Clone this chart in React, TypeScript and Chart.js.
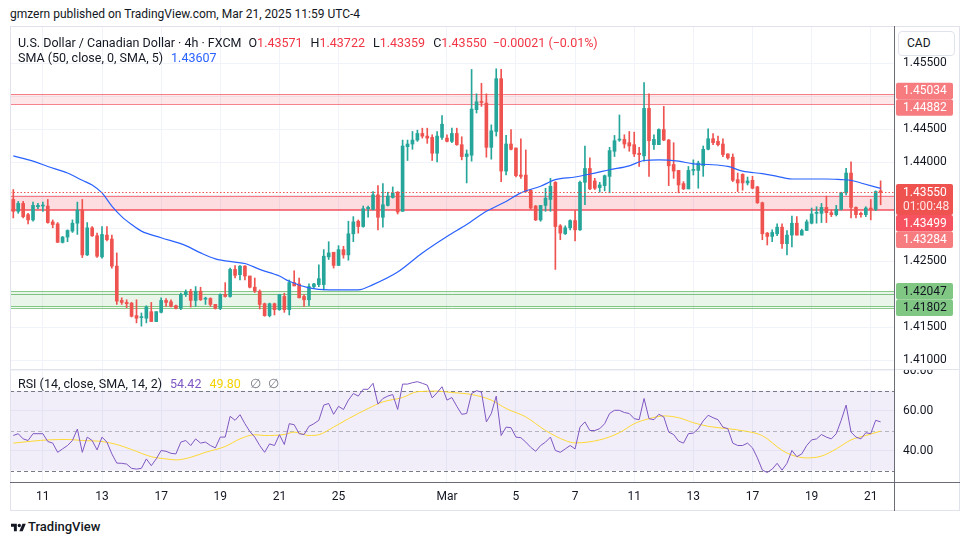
import React, { useEffect, useRef } from "react";
import { Chart, registerables } from "chart.js";

Chart.register(...registerables);

const FONT = "Roboto, 'Noto Sans', sans-serif";
const UP = "#26a69a";
const DOWN = "#ef5350";
const GRID = "#f0f3fa";
const TEXT = "#131722";

// ---- candles (4h bars, Feb 10 -> Mar 21) ----
const opens = [
  1.4344, 1.4326, 1.4338, 1.4321, 1.4313, 1.4333, 1.4334, 1.4334, 1.4310, 1.4307,
  1.4279, 1.4287, 1.4296, 1.4308, 1.4328, 1.4260, 1.4301, 1.4289, 1.4257, 1.4290,
  1.4284, 1.4243, 1.4191, 1.4188, 1.4187, 1.4168, 1.4165, 1.4164, 1.4174, 1.4159,
  1.4173, 1.4191, 1.4189, 1.4183, 1.4179, 1.4200, 1.4205, 1.4191, 1.4205, 1.4193,
  1.4194, 1.4185, 1.4179, 1.4200, 1.4197, 1.4238, 1.4230, 1.4243, 1.4228, 1.4211,
  1.4205, 1.4186, 1.4168, 1.4186, 1.4177, 1.4197, 1.4177, 1.4218, 1.4216, 1.4197,
  1.4192, 1.4212, 1.4215, 1.4215, 1.4257, 1.4264, 1.4244, 1.4268, 1.4260, 1.4292,
  1.4311, 1.4303, 1.4330, 1.4329, 1.4351, 1.4317, 1.4335, 1.4347, 1.4355, 1.4326,
  1.4424, 1.4428, 1.4434, 1.4444, 1.4440, 1.4438, 1.4414, 1.4438, 1.4437, 1.4432,
  1.4444, 1.4427, 1.4409, 1.4411, 1.4480, 1.4492, 1.4490, 1.4423, 1.4447, 1.4527,
  1.4387, 1.4428, 1.4422, 1.4381, 1.4381, 1.4358, 1.4334, 1.4313, 1.4335, 1.4344,
  1.4370, 1.4304, 1.4292, 1.4301, 1.4312, 1.4298, 1.4370, 1.4391, 1.4372, 1.4362,
  1.4365, 1.4379, 1.4417, 1.4434, 1.4435, 1.4430, 1.4427, 1.4414, 1.4410, 1.4482,
  1.4427, 1.4427, 1.4450, 1.4434, 1.4397, 1.4388, 1.4368, 1.4360, 1.4388, 1.4388,
  1.4395, 1.4420, 1.4436, 1.4432, 1.4428, 1.4413, 1.4408, 1.4374, 1.4382, 1.4369,
  1.4373, 1.4363, 1.4339, 1.4293, 1.4288, 1.4292, 1.4302, 1.4277, 1.4290, 1.4308,
  1.4290, 1.4297, 1.4308, 1.4323, 1.4323, 1.4332, 1.4324, 1.4321, 1.4329, 1.4354,
  1.4384, 1.4332, 1.4323, 1.4321, 1.4331, 1.4329, 1.43571,
];
const highs = [
  1.4359, 1.4341, 1.4341, 1.4323, 1.4340, 1.4338, 1.4340, 1.4344, 1.4313, 1.4309,
  1.4288, 1.4298, 1.4313, 1.4340, 1.4344, 1.4309, 1.4303, 1.4293, 1.4303, 1.4303,
  1.4290, 1.4263, 1.4195, 1.4192, 1.4188, 1.4192, 1.4172, 1.4183, 1.4188, 1.4174,
  1.4195, 1.4194, 1.4192, 1.4184, 1.4202, 1.4207, 1.4208, 1.4212, 1.4211, 1.4196,
  1.4195, 1.4185, 1.4201, 1.4218, 1.4240, 1.4244, 1.4244, 1.4244, 1.4228, 1.4225,
  1.4207, 1.4187, 1.4187, 1.4187, 1.4200, 1.4202, 1.4222, 1.4236, 1.4225, 1.4200,
  1.4216, 1.4217, 1.4245, 1.4268, 1.4280, 1.4264, 1.4274, 1.4273, 1.4311, 1.4318,
  1.4313, 1.4334, 1.4334, 1.4356, 1.4365, 1.4368, 1.4355, 1.4363, 1.4356, 1.4434,
  1.4434, 1.4447, 1.4449, 1.4452, 1.4452, 1.4442, 1.4447, 1.4471, 1.4442, 1.4452,
  1.4452, 1.4439, 1.4419, 1.4541, 1.4504, 1.4520, 1.4504, 1.4457, 1.4542, 1.4541,
  1.4441, 1.4450, 1.4422, 1.4436, 1.4419, 1.4359, 1.4335, 1.4335, 1.4361, 1.4376,
  1.4371, 1.4306, 1.4304, 1.4313, 1.4327, 1.4372, 1.4425, 1.4407, 1.4376, 1.4370,
  1.4381, 1.4423, 1.4441, 1.4472, 1.4442, 1.4447, 1.4446, 1.4423, 1.4521, 1.4504,
  1.4442, 1.4451, 1.4485, 1.4435, 1.4430, 1.4388, 1.4371, 1.4394, 1.4404, 1.4402,
  1.4425, 1.4451, 1.4444, 1.4440, 1.4436, 1.4413, 1.4413, 1.4384, 1.4383, 1.4378,
  1.4379, 1.4364, 1.4340, 1.4294, 1.4298, 1.4307, 1.4307, 1.4297, 1.4319, 1.4318,
  1.4299, 1.4313, 1.4331, 1.4333, 1.4338, 1.4349, 1.4328, 1.4335, 1.4355, 1.4391,
  1.4401, 1.4333, 1.4325, 1.4333, 1.4344, 1.4357, 1.43722,
];
const lows = [
  1.4316, 1.4323, 1.4316, 1.4307, 1.4311, 1.4330, 1.4326, 1.4308, 1.4301, 1.4279,
  1.4278, 1.4280, 1.4294, 1.4291, 1.4256, 1.4259, 1.4288, 1.4256, 1.4255, 1.4281,
  1.4240, 1.4185, 1.4185, 1.4180, 1.4166, 1.4157, 1.4152, 1.4157, 1.4159, 1.4159,
  1.4172, 1.4182, 1.4181, 1.4178, 1.4177, 1.4197, 1.4181, 1.4182, 1.4191, 1.4185,
  1.4182, 1.4178, 1.4177, 1.4196, 1.4196, 1.4225, 1.4222, 1.4222, 1.4210, 1.4203,
  1.4178, 1.4167, 1.4166, 1.4169, 1.4176, 1.4173, 1.4169, 1.4213, 1.4195, 1.4182,
  1.4183, 1.4210, 1.4212, 1.4207, 1.4253, 1.4240, 1.4244, 1.4255, 1.4252, 1.4280,
  1.4293, 1.4302, 1.4317, 1.4328, 1.4298, 1.4302, 1.4334, 1.4346, 1.4322, 1.4326,
  1.4403, 1.4420, 1.4432, 1.4437, 1.4429, 1.4403, 1.4401, 1.4435, 1.4431, 1.4430,
  1.4426, 1.4404, 1.4369, 1.4402, 1.4475, 1.4485, 1.4408, 1.4405, 1.4440, 1.4371,
  1.4381, 1.4419, 1.4378, 1.4376, 1.4355, 1.4329, 1.4312, 1.4311, 1.4326, 1.4326,
  1.4238, 1.4283, 1.4291, 1.4298, 1.4281, 1.4297, 1.4336, 1.4359, 1.4359, 1.4355,
  1.4357, 1.4354, 1.4409, 1.4432, 1.4422, 1.4417, 1.4409, 1.4394, 1.4402, 1.4379,
  1.4420, 1.4427, 1.4433, 1.4365, 1.4376, 1.4354, 1.4359, 1.4360, 1.4381, 1.4361,
  1.4379, 1.4419, 1.4427, 1.4425, 1.4409, 1.4405, 1.4371, 1.4356, 1.4358, 1.4366,
  1.4360, 1.4338, 1.4283, 1.4275, 1.4280, 1.4289, 1.4270, 1.4260, 1.4272, 1.4290,
  1.4290, 1.4297, 1.4307, 1.4308, 1.4309, 1.4309, 1.4318, 1.4319, 1.4328, 1.4351,
  1.4316, 1.4316, 1.4317, 1.4318, 1.4313, 1.4327, 1.43359,
];
const closes = [
  1.4326, 1.4338, 1.4318, 1.4313, 1.4335, 1.4335, 1.4335, 1.4309, 1.4306, 1.4279,
  1.4287, 1.4297, 1.4308, 1.4328, 1.4260, 1.4301, 1.4289, 1.4258, 1.4291, 1.4283,
  1.4243, 1.4190, 1.4188, 1.4186, 1.4167, 1.4164, 1.4166, 1.4181, 1.4159, 1.4174,
  1.4191, 1.4188, 1.4182, 1.4179, 1.4200, 1.4204, 1.4191, 1.4205, 1.4192, 1.4194,
  1.4185, 1.4179, 1.4200, 1.4197, 1.4238, 1.4229, 1.4243, 1.4228, 1.4211, 1.4205,
  1.4185, 1.4168, 1.4186, 1.4177, 1.4200, 1.4177, 1.4218, 1.4213, 1.4195, 1.4192,
  1.4212, 1.4216, 1.4224, 1.4258, 1.4263, 1.4244, 1.4268, 1.4260, 1.4292, 1.4310,
  1.4303, 1.4330, 1.4332, 1.4351, 1.4317, 1.4336, 1.4349, 1.4354, 1.4325, 1.4425,
  1.4428, 1.4434, 1.4444, 1.4440, 1.4437, 1.4414, 1.4440, 1.4458, 1.4432, 1.4444,
  1.4427, 1.4409, 1.4413, 1.4481, 1.4492, 1.4491, 1.4423, 1.4448, 1.4527, 1.4387,
  1.4428, 1.4420, 1.4380, 1.4379, 1.4356, 1.4331, 1.4313, 1.4335, 1.4346, 1.4364,
  1.4303, 1.4293, 1.4301, 1.4312, 1.4298, 1.4370, 1.4391, 1.4360, 1.4361, 1.4366,
  1.4380, 1.4418, 1.4433, 1.4435, 1.4428, 1.4425, 1.4413, 1.4412, 1.4482, 1.4433,
  1.4435, 1.4450, 1.4434, 1.4395, 1.4387, 1.4366, 1.4360, 1.4388, 1.4389, 1.4399,
  1.4420, 1.4436, 1.4430, 1.4427, 1.4412, 1.4407, 1.4373, 1.4369, 1.4369, 1.4372,
  1.4361, 1.4339, 1.4292, 1.4288, 1.4294, 1.4302, 1.4277, 1.4290, 1.4308, 1.4290,
  1.4297, 1.4310, 1.4322, 1.4324, 1.4332, 1.4324, 1.4321, 1.4329, 1.4354, 1.4384,
  1.4332, 1.4321, 1.4321, 1.4331, 1.4329, 1.4356, 1.43550,
];

// ---- SMA(50) read at selected bars ----
const smaBars = [0, 4, 7, 11, 14, 16, 18, 20, 22, 24, 26, 30, 35, 38, 41, 45, 47, 50, 54, 56,
  60, 64, 70, 73, 78, 83, 88, 92, 96, 100, 103, 107, 110, 114, 118, 121, 125, 128, 131, 135,
  138, 141, 145, 148, 152, 155, 158, 162, 165, 168, 170, 172, 176];
const smaValues = [1.4410, 1.4402, 1.4394, 1.4384, 1.4373, 1.4366, 1.4354, 1.4334, 1.4318, 1.4306,
  1.4296, 1.4286, 1.4274, 1.4263, 1.4254, 1.4249, 1.4247, 1.4238, 1.4228, 1.4220,
  1.4210, 1.4207, 1.4207, 1.4215, 1.4234, 1.4263, 1.4288, 1.4306, 1.4326, 1.4341,
  1.4354, 1.4364, 1.4374, 1.4378, 1.4384, 1.4389, 1.4395, 1.4403, 1.4404, 1.4402,
  1.4398, 1.4397, 1.4394, 1.4387, 1.4383, 1.4379, 1.4375, 1.4375, 1.4375, 1.4374,
  1.4373, 1.4369, 1.43607];

// ---- RSI(14) per bar ----
const rsiValues = [
  47.6, 48.5, 45.9, 45.1, 48.5, 48.5, 48.5, 44.6, 43.8, 39.2,
  40.9, 42.6, 45.1, 50.8, 39.2, 46.8, 45.1, 40.4, 46.8, 44.3,
  38.4, 33.8, 33.7, 33.3, 31.2, 30.8, 31.2, 35.9, 32.5, 35.9,
  40.1, 39.7, 38.7, 38.4, 44.3, 45.1, 42.6, 45.9, 43.8, 44.3,
  42.6, 41.4, 46.8, 46.8, 57.2, 55.2, 58.0, 53.5, 49.6, 46.8,
  42.6, 39.2, 43.4, 42.6, 48.0, 43.1, 53.5, 53.0, 48.5, 48.1,
  52.2, 53.5, 55.2, 62.8, 63.6, 58.2, 62.2, 60.6, 65.3, 68.6,
  67.3, 70.7, 70.7, 73.7, 63.3, 66.1, 67.3, 68.1, 60.6, 73.3,
  73.3, 74.0, 74.5, 73.7, 72.8, 66.4, 69.0, 72.0, 65.3, 66.6,
  62.2, 58.2, 58.6, 68.6, 70.0, 69.3, 54.4, 58.6, 67.3, 47.6,
  51.8, 51.5, 46.8, 46.5, 44.3, 41.7, 39.7, 42.6, 44.3, 46.8,
  40.1, 39.2, 40.9, 42.6, 40.9, 51.8, 54.4, 50.1, 50.1, 51.0,
  53.5, 58.6, 60.2, 60.2, 59.1, 58.6, 56.0, 55.5, 66.1, 56.0,
  55.5, 58.2, 56.9, 49.3, 48.1, 44.8, 43.8, 48.5, 48.8, 51.0,
  54.9, 57.7, 56.5, 55.5, 51.8, 51.0, 43.8, 42.6, 42.6, 43.8,
  41.4, 36.4, 30.3, 29.1, 30.8, 33.7, 30.3, 33.7, 40.1, 37.0,
  38.4, 42.6, 45.4, 45.9, 48.1, 46.8, 45.9, 48.5, 55.2, 62.8,
  49.3, 46.8, 45.9, 49.0, 48.5, 55.2, 54.42,
];

// ---- RSI-based SMA(14) read at selected bars ----
const rsiMaBars = [0, 4, 7, 11, 14, 18, 21, 24, 28, 31, 33, 36, 39, 43, 46, 49, 51, 55, 57, 60,
  62, 65, 68, 72, 75, 79, 82, 86, 89, 93, 97, 100, 104, 108, 112, 114, 119, 123, 126, 129,
  132, 135, 138, 141, 145, 149, 152, 156, 158, 161, 164, 167, 170, 173, 176];
const rsiMaValues = [43.8, 44.8, 45.4, 45.6, 45.1, 44.6, 43.1, 40.6, 37.0, 35.9, 35.4, 36.7, 39.2, 42.1, 45.9, 48.0, 47.6, 48.1, 49.3, 47.6,
  48.0, 51.8, 56.0, 61.1, 64.4, 66.6, 69.5, 69.8, 69.1, 68.1, 65.3, 61.1, 56.9, 50.1, 45.1, 43.9, 45.4, 49.0, 53.5, 56.0,
  57.4, 56.5, 54.0, 52.2, 51.0, 49.6, 47.5, 40.2, 37.8, 36.4, 37.3, 40.9, 45.4, 47.6, 49.80];

// ---- axes ----
const priceTicks = [1.41, 1.415, 1.42, 1.425, 1.43, 1.435, 1.44, 1.445, 1.45, 1.455];
const rsiTicks = [40, 60, 80];
const timeTickBars = [6, 18, 30, 42, 54, 66, 88, 102, 114, 126, 138, 150, 162, 174];
const timeTickLabels = ["11", "13", "17", "19", "21", "25", "Mar", "5", "7", "11", "13", "17", "19", "21"];

// ---- drawn zones / levels ----
const resistanceHigh = [1.45034, 1.44882];
const resistanceMid = [1.43499, 1.43284];
const supportOuter = [1.42047, 1.41802];
const supportInner = [1.42012, 1.41830];
const rsiBand = [70, 30];
const rsiMid = 50;
const countdown = "01:00:48";
const changeText = "\u22120.00021 (\u22120.01%)";
const smaLast = 1.43607;

const X_MIN = -0.67;
const X_MAX = 178.92;
const PRICE_MIN = 1.40856;
const PRICE_MAX = 1.46053;
const RSI_MIN = 23.85;
const RSI_MAX = 80.35;

function hline(ctx: any, area: any, y: number, color: string, width: number, dash: number[] = []) {
  ctx.save();
  ctx.strokeStyle = color;
  ctx.lineWidth = width;
  ctx.setLineDash(dash);
  const yy = width % 2 === 1 ? Math.round(y) + 0.5 : Math.round(y);
  ctx.beginPath();
  ctx.moveTo(area.left, yy);
  ctx.lineTo(area.right, yy);
  ctx.stroke();
  ctx.restore();
}

const zonePlugin = {
  id: "zones",
  beforeDatasetsDraw(chart: any) {
    const { ctx, chartArea: a } = chart;
    const ys = chart.scales.y;
    const fill = (top: number, bot: number, color: string) => {
      const y1 = ys.getPixelForValue(top);
      const y2 = ys.getPixelForValue(bot);
      ctx.save();
      ctx.fillStyle = color;
      ctx.fillRect(a.left, y1, a.right - a.left, y2 - y1);
      ctx.restore();
    };
    fill(resistanceHigh[0], resistanceHigh[1], "rgba(242,54,69,0.12)");
    hline(ctx, a, ys.getPixelForValue(resistanceHigh[0]), "rgba(242,54,69,0.6)", 1);
    hline(ctx, a, ys.getPixelForValue(resistanceHigh[1]), "rgba(242,54,69,0.6)", 1);
    fill(resistanceMid[0], resistanceMid[1], "rgba(242,54,69,0.17)");
    hline(ctx, a, ys.getPixelForValue(resistanceMid[0]), "rgba(242,54,69,0.6)", 1);
    hline(ctx, a, ys.getPixelForValue(resistanceMid[1]), "rgba(242,54,69,0.65)", 2);
    fill(supportOuter[0], supportOuter[1], "rgba(76,175,80,0.13)");
    [supportOuter[0], supportInner[0], supportInner[1], supportOuter[1]].forEach((v) =>
      hline(ctx, a, ys.getPixelForValue(v), "rgba(76,175,80,0.65)", 1)
    );
  },
  afterDatasetsDraw(chart: any) {
    const { ctx, chartArea: a } = chart;
    const ys = chart.scales.y;
    const last = closes[closes.length - 1];
    hline(ctx, a, ys.getPixelForValue(last), DOWN, 1, [1.5, 2]);
  },
};

const tagPlugin = {
  id: "tags",
  afterDraw(chart: any) {
    const { ctx, chartArea: a } = chart;
    const ys = chart.scales.y;
    const H = 16.6;
    const last = closes[closes.length - 1];
    const tags: any[] = [
      { value: last, lines: [last.toFixed(5), countdown], bg: DOWN, fg: ["#ffffff", "rgba(255,255,255,0.85)"], h: 31, fixed: true },
      { value: resistanceHigh[0], lines: [resistanceHigh[0].toFixed(5)], bg: "#f77c80", fg: ["#ffffff"], h: H },
      { value: resistanceHigh[1], lines: [resistanceHigh[1].toFixed(5)], bg: "#f77c80", fg: ["#ffffff"], h: H },
      { value: resistanceMid[0], lines: [resistanceMid[0].toFixed(5)], bg: "#f7525f", fg: ["#ffffff"], h: H },
      { value: resistanceMid[1], lines: [resistanceMid[1].toFixed(5)], bg: "#f77c80", fg: ["#ffffff"], h: H },
      { value: supportOuter[0], lines: [supportOuter[0].toFixed(5)], bg: "#81c784", fg: [TEXT], h: H },
      { value: supportOuter[1], lines: [supportOuter[1].toFixed(5)], bg: "#81c784", fg: [TEXT], h: H },
    ];
    tags.forEach((t) => {
      t.c = ys.getPixelForValue(t.value);
      t.top = t.c - H / 2;
    });
    tags.sort((p, q) => p.c - q.c);
    for (let it = 0; it < 300; it++) {
      for (let k = 0; k < tags.length - 1; k++) {
        const p = tags[k];
        const q = tags[k + 1];
        const ov = p.top + p.h - q.top;
        if (ov > 0.01) {
          if (p.fixed) q.top += ov;
          else if (q.fixed) p.top -= ov;
          else {
            p.top -= ov / 2;
            q.top += ov / 2;
          }
        }
      }
    }
    ctx.save();
    ctx.font = `12px ${FONT}`;
    ctx.textBaseline = "middle";
    ctx.textAlign = "left";
    tags.forEach((t) => {
      ctx.fillStyle = t.bg;
      ctx.beginPath();
      ctx.roundRect(a.right + 1, t.top, 57, t.h, 2);
      ctx.fill();
      t.lines.forEach((s: string, j: number) => {
        ctx.fillStyle = t.fg[j] || t.fg[0];
        ctx.fillText(s, a.right + 8, t.top + H / 2 + j * 14.4 + 0.5);
      });
    });
    ctx.restore();
  },
};

const rsiBandPlugin = {
  id: "rsiBand",
  beforeDatasetsDraw(chart: any) {
    const { ctx, chartArea: a } = chart;
    const ys = chart.scales.y;
    const y1 = ys.getPixelForValue(rsiBand[0]);
    const y2 = ys.getPixelForValue(rsiBand[1]);
    ctx.save();
    ctx.fillStyle = "rgba(126,87,194,0.1)";
    ctx.fillRect(a.left, y1, a.right - a.left, y2 - y1);
    ctx.restore();
    hline(ctx, a, y1, "#787b86", 1, [4, 3]);
    hline(ctx, a, y2, "#787b86", 1, [4, 3]);
    hline(ctx, a, ys.getPixelForValue(rsiMid), "rgba(120,123,134,0.5)", 1, [4, 3]);
  },
};

export default function App() {
  const priceRef = useRef<HTMLCanvasElement>(null);
  const rsiRef = useRef<HTMLCanvasElement>(null);

  useEffect(() => {
    const bars = closes.map((_, i) => i);
    const colors = bars.map((i) => (closes[i] >= opens[i] ? UP : DOWN));
    const xBase: any = {
      type: "linear",
      min: X_MIN,
      max: X_MAX,
      offset: false,
      grid: { color: GRID, drawTicks: false, offset: false },
      border: { display: false },
      afterBuildTicks: (s: any) => {
        s.ticks = timeTickBars.map((v) => ({ value: v }));
      },
    };

    const priceChart = new Chart(priceRef.current as HTMLCanvasElement, {
      type: "bar",
      data: {
        datasets: [
          {
            type: "line",
            data: smaBars.map((b, k) => ({ x: b, y: smaValues[k] })),
            borderColor: "#2962ff",
            borderWidth: 1.2,
            pointRadius: 0,
            cubicInterpolationMode: "monotone",
            order: 0,
          } as any,
          {
            data: bars.map((i) => ({ x: i, y: [opens[i], closes[i]] })),
            backgroundColor: colors,
            barThickness: 3,
            minBarLength: 1,
            grouped: false,
            order: 1,
          } as any,
          {
            data: bars.map((i) => ({ x: i, y: [lows[i], highs[i]] })),
            backgroundColor: colors,
            barThickness: 1,
            grouped: false,
            order: 2,
          } as any,
        ],
      },
      options: {
        responsive: false,
        animation: false,
        events: [],
        layout: { padding: 0 },
        plugins: { legend: { display: false }, tooltip: { enabled: false } },
        scales: {
          x: {
            ...xBase,
            ticks: { display: false },
            afterFit: (s: any) => {
              s.height = 0;
              s.paddingLeft = 0;
              s.paddingRight = 0;
            },
          },
          y: {
            type: "linear",
            position: "right",
            min: PRICE_MIN,
            max: PRICE_MAX,
            grid: { color: GRID, drawTicks: false },
            border: { display: false },
            ticks: {
              color: TEXT,
              font: { family: FONT, size: 12 },
              padding: 8,
              autoSkip: false,
              callback: (v: any) => Number(v).toFixed(5),
            },
            afterBuildTicks: (s: any) => {
              s.ticks = priceTicks.map((v) => ({ value: v }));
            },
            afterFit: (s: any) => {
              s.width = 65;
              s.paddingTop = 0;
              s.paddingBottom = 0;
            },
          },
        },
      } as any,
      plugins: [zonePlugin, tagPlugin],
    });

    const rsiChart = new Chart(rsiRef.current as HTMLCanvasElement, {
      type: "line",
      data: {
        datasets: [
          {
            data: bars.map((i) => ({ x: i, y: rsiValues[i] })),
            borderColor: "#7e57c2",
            borderWidth: 1,
            pointRadius: 0,
            tension: 0,
          },
          {
            data: rsiMaBars.map((b, k) => ({ x: b, y: rsiMaValues[k] })),
            borderColor: "#fdd835",
            borderWidth: 1,
            pointRadius: 0,
            cubicInterpolationMode: "monotone",
          },
        ],
      },
      options: {
        responsive: false,
        animation: false,
        events: [],
        layout: { padding: 0 },
        plugins: { legend: { display: false }, tooltip: { enabled: false } },
        scales: {
          x: {
            ...xBase,
            ticks: {
              color: TEXT,
              font: { family: FONT, size: 12 },
              padding: 7,
              maxRotation: 0,
              autoSkip: false,
              callback: (_v: any, i: number) => timeTickLabels[i],
            },
            afterFit: (s: any) => {
              s.height = 28;
              s.paddingLeft = 0;
              s.paddingRight = 0;
            },
          },
          y: {
            type: "linear",
            position: "right",
            min: RSI_MIN,
            max: RSI_MAX,
            grid: { color: GRID, drawTicks: false },
            border: { display: false },
            ticks: {
              color: TEXT,
              font: { family: FONT, size: 12 },
              padding: 8,
              autoSkip: false,
              callback: (v: any) => Number(v).toFixed(2),
            },
            afterBuildTicks: (s: any) => {
              s.ticks = rsiTicks.map((v) => ({ value: v }));
            },
            afterFit: (s: any) => {
              s.width = 65;
              s.paddingTop = 0;
              s.paddingBottom = 0;
            },
          },
        },
      } as any,
      plugins: [rsiBandPlugin],
    });

    return () => {
      priceChart.destroy();
      rsiChart.destroy();
    };
  }, []);

  const n = closes.length - 1;
  const red = "#f23645";
  const legend: any = {
    position: "absolute",
    left: 18,
    whiteSpace: "nowrap",
    fontSize: 12.5,
    color: "#131722",
    fontFamily: FONT,
    lineHeight: "14px",
  };
  const line = (style: any) => ({ position: "absolute", ...style });

  return (
    <div style={{ position: "fixed", left: 0, top: 0, width: 970, height: 545, background: "#fff", overflow: "hidden", fontFamily: FONT }}>
      <div style={{ position: "absolute", left: 10, top: 6, fontSize: 12, color: TEXT, whiteSpace: "nowrap", lineHeight: "16px" }}>
        gmzern published on TradingView.com, Mar 21, 2025 11:59 UTC-4
      </div>
      <canvas ref={priceRef} width={950} height={343} style={{ position: "absolute", left: 10, top: 27 }} />
      <canvas ref={rsiRef} width={950} height={141} style={{ position: "absolute", left: 10, top: 370 }} />

      {/* frame and pane separators */}
      <div style={line({ left: 10, top: 26, width: 950, height: 1, background: "#e0e3eb" })} />
      <div style={line({ left: 10, top: 26, width: 1, height: 485, background: "#e0e3eb" })} />
      <div style={line({ left: 959, top: 26, width: 1, height: 485, background: "#e0e3eb" })} />
      <div style={line({ left: 10, top: 510, width: 950, height: 1, background: "#e0e3eb" })} />
      <div style={line({ left: 10, top: 369, width: 950, height: 1, background: "#e0e3eb" })} />
      <div style={line({ left: 10, top: 482, width: 950, height: 1, background: "#6a6d78" })} />
      <div style={line({ left: 894, top: 26, width: 1, height: 485, background: "#6a6d78" })} />

      {/* legend */}
      <div style={{ ...legend, top: 36 }}>
        <span>U.S. Dollar / Canadian Dollar · 4h · FXCM</span>
        <span style={{ marginLeft: 7 }}>O<span style={{ color: red }}>{opens[n].toFixed(5)}</span></span>
        <span style={{ marginLeft: 8 }}>H<span style={{ color: red }}>{highs[n].toFixed(5)}</span></span>
        <span style={{ marginLeft: 8 }}>L<span style={{ color: red }}>{lows[n].toFixed(5)}</span></span>
        <span style={{ marginLeft: 8 }}>C<span style={{ color: red }}>{closes[n].toFixed(5)}</span></span>
        <span style={{ marginLeft: 6, color: red }}>{changeText}</span>
      </div>
      <div style={{ ...legend, top: 51 }}>
        <span>SMA (50, close, 0, SMA, 5)</span>
        <span style={{ marginLeft: 8, color: "#2962ff" }}>{smaLast.toFixed(5)}</span>
      </div>
      <div style={{ ...legend, top: 377 }}>
        <span>RSI (14, close, SMA, 14, 2)</span>
        <span style={{ marginLeft: 8, color: "#7e57c2" }}>{rsiValues[n].toFixed(2)}</span>
        <span style={{ marginLeft: 8, color: "#f5d300" }}>{rsiMaValues[rsiMaValues.length - 1].toFixed(2)}</span>
        <span style={{ marginLeft: 9, color: "#787b86" }}>∅</span>
        <span style={{ marginLeft: 7, color: "#787b86" }}>∅</span>
      </div>

      {/* currency button */}
      <div style={{ position: "absolute", left: 898, top: 31, width: 57, height: 25, boxSizing: "border-box", border: "1px solid #e0e3eb", borderRadius: 4, background: "#fff", fontSize: 12, color: TEXT, lineHeight: "23px", paddingLeft: 8 }}>
        CAD
      </div>

      {/* logo */}
      <svg style={{ position: "absolute", left: 11, top: 522 }} width={15} height={12} viewBox="0 0 36 28">
        <path d="M14 22H7V11H0V4h14v18z" fill="#131722" />
        <circle cx="20" cy="8" r="4" fill="#131722" />
        <path d="M28 22h-8l7.5-18h8L28 22z" fill="#131722" />
      </svg>
      <div style={{ position: "absolute", left: 28, top: 519, fontSize: 13, fontWeight: 500, color: TEXT, lineHeight: "16px" }}>TradingView</div>
    </div>
  );
}
